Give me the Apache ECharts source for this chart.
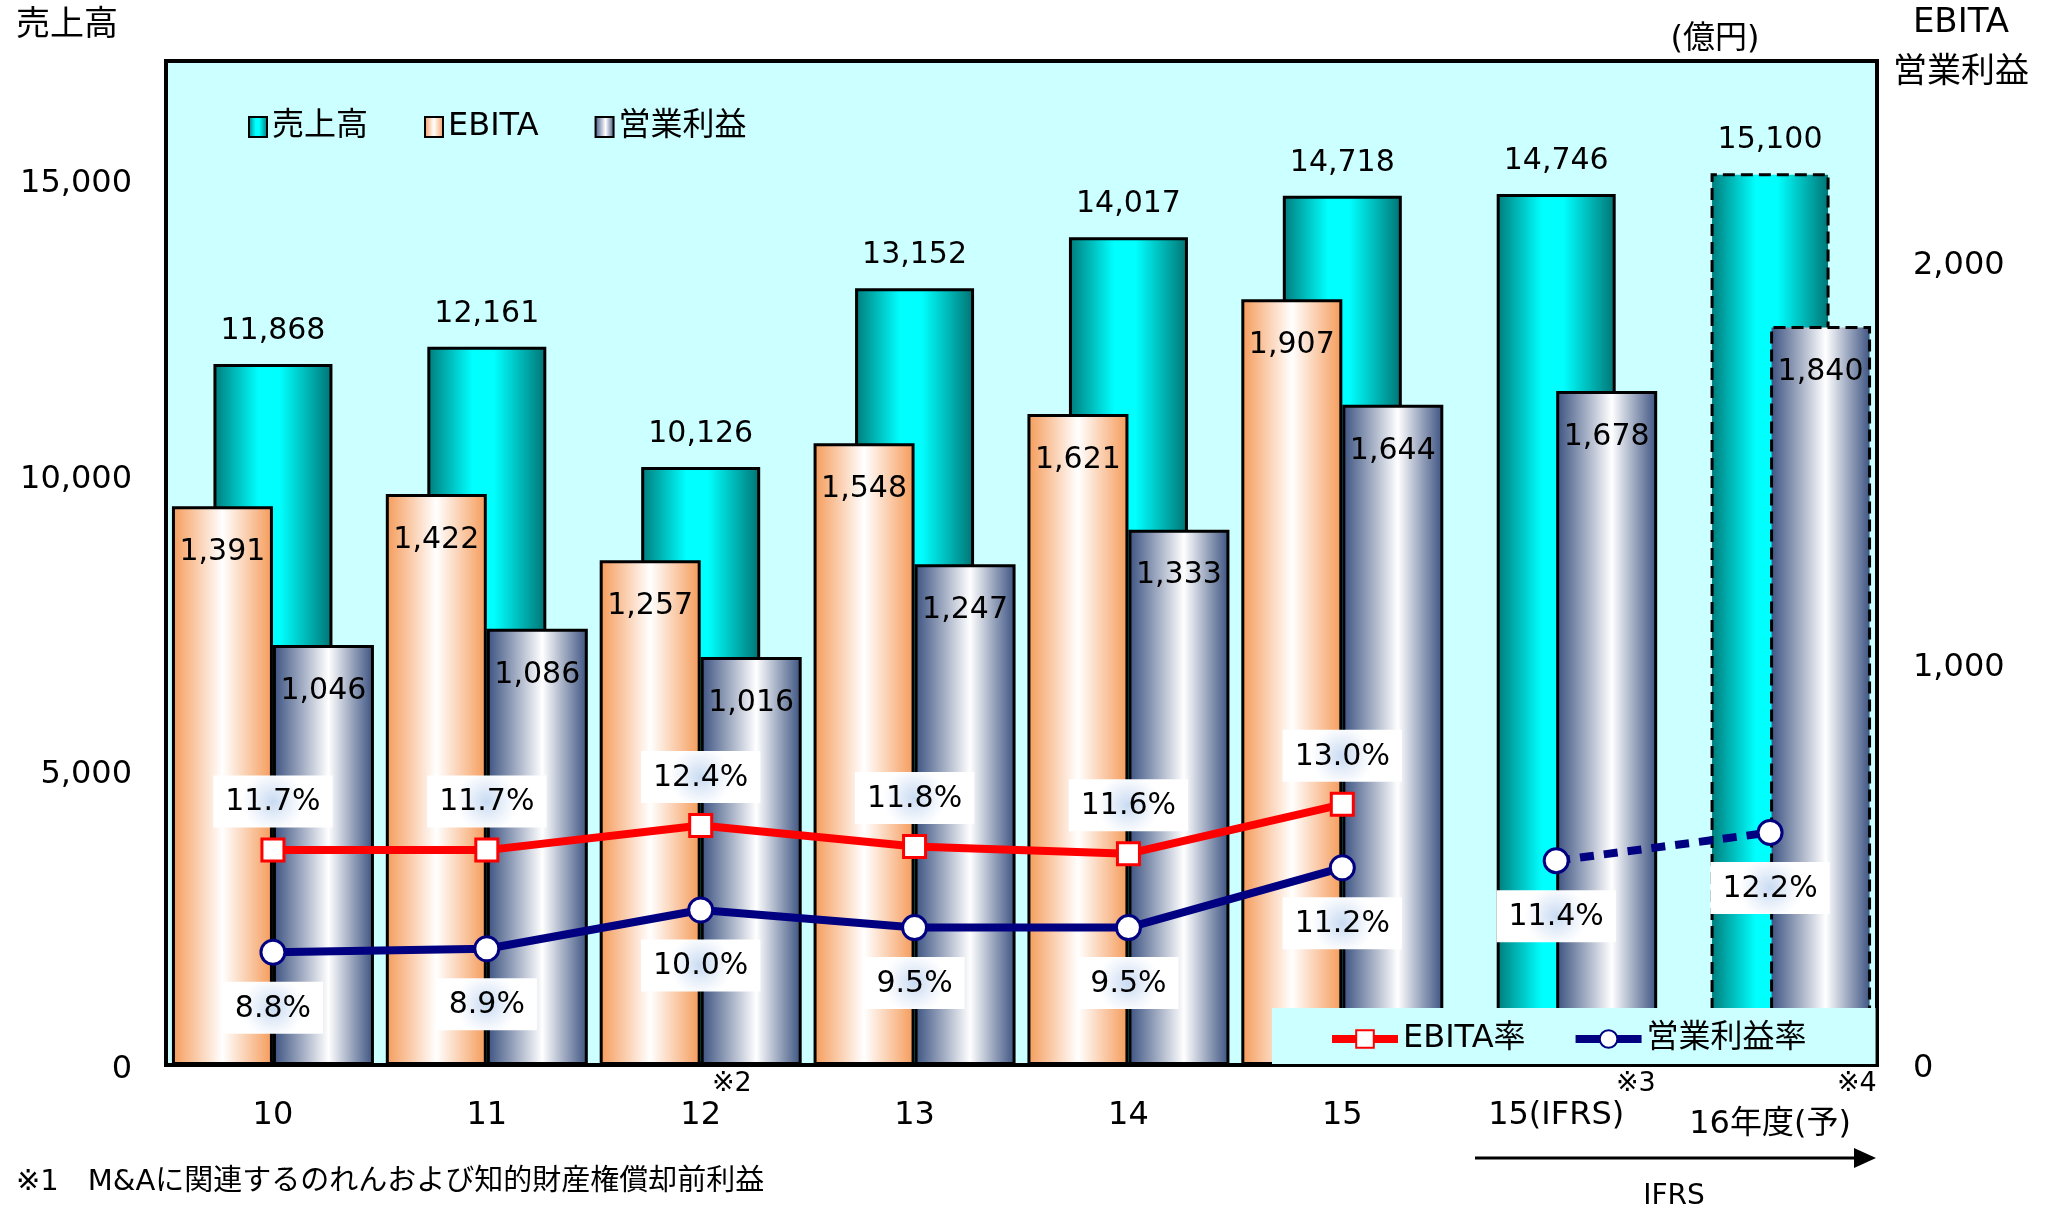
<!DOCTYPE html>
<html lang="ja">
<head>
<meta charset="utf-8">
<title>売上高・EBITA・営業利益</title>
<script src="https://cdn.jsdelivr.net/npm/echarts@6.0.0/dist/echarts.min.js"></script>
<style>
  html, body { margin: 0; padding: 0; background: #fff; }
  #chart { width: 2046px; height: 1212px; }
</style>
</head>
<body>
<div id="chart"></div>
<script>
const categories = ['10', '11', '12', '13', '14', '15', '15(IFRS)', '16年度(予)'];
const sales = [11868, 12161, 10126, 13152, 14017, 14718, 14746, 15100];
const ebita = [1391, 1422, 1257, 1548, 1621, 1907, null, null];
const opIncome = [1046, 1086, 1016, 1247, 1333, 1644, 1678, 1840];
const ebitaRate = [11.7, 11.7, 12.4, 11.8, 11.6, 13.0, null, null];
const opRate = [8.8, 8.9, 10.0, 9.5, 9.5, 11.2, null, null];
const opRateIfrs = [null, null, null, null, null, null, 11.4, 12.2];
const forecastIndex = 7; // 16年度(予) は破線の棒

const salesAxis = { min: 0, max: 17000, interval: 5000 };
const profitAxis = { min: 0, max: 2500, interval: 1000 };
const rateAxis = { min: 5.6, max: 34.1 };

const FONT = '"DejaVu Sans", "Noto Sans CJK JP", sans-serif';
const BG = '#CCFFFF';

const chart = echarts.init(document.getElementById('chart'), null, { renderer: 'canvas' });

function hGrad(stops) {
  return new echarts.graphic.LinearGradient(0, 0, 1, 0,
    stops.map(s => ({ offset: s[0], color: s[1] })));
}

function fmt(v) {
  return v == null ? '' : Number(v).toLocaleString('en-US');
}

function withForecast(values) {
  return values.map((v, i) => i === forecastIndex && v != null
    ? { value: v, itemStyle: { borderType: 'dashed' } }
    : v);
}

const salesFill = hGrad([[0, '#007A7A'], [0.38, '#00FFFF'], [0.56, '#00FFFF'], [1, '#007272']]);
const ebitaFill = hGrad([[0, '#F59A58'], [0.5, '#FFFFFF'], [1, '#F59A58']]);
const opFill = hGrad([[0, '#39507F'], [0.55, '#FFFFFF'], [1, '#39507F']]);

const rateLabelBg = {
  type: 'radial', x: 0.5, y: 0.5, r: 0.6,
  colorStops: [
    { offset: 0, color: '#C9DBF2' },
    { offset: 0.7, color: '#F2F6FC' },
    { offset: 1, color: '#FFFFFF' }
  ]
};

function rateLabel(position, distance) {
  return {
    show: true,
    position: position,
    distance: distance,
    formatter: p => p.value == null ? '' : p.value.toFixed(1) + '%',
    fontFamily: FONT,
    fontSize: 30,
    color: '#000',
    backgroundColor: rateLabelBg,
    padding: [12, 12, 10, 12]
  };
}

function valueAxisLabel(margin, shift) {
  return {
    margin: margin,
    showMaxLabel: false,
    formatter: v => '{v|' + fmt(v) + '}',
    rich: { v: { fontFamily: FONT, fontSize: 32, color: '#000', padding: [shift, 0, 0, 0] } }
  };
}

function text(x, y, str, size, align) {
  return {
    type: 'text',
    x: x,
    y: y,
    z: 10,
    style: {
      text: str,
      fontFamily: FONT,
      fontSize: size,
      fill: '#000',
      align: align || 'left',
      verticalAlign: 'middle'
    }
  };
}

const option = {
  animation: false,
  backgroundColor: '#fff',
  textStyle: { fontFamily: FONT },
  grid: {
    left: 166, right: 169, top: 61, bottom: 147,
    show: true,
    backgroundColor: BG,
    borderColor: '#000',
    borderWidth: 4,
    containLabel: false,
    outerBoundsMode: 'none'
  },
  legend: [
    {
      data: ['売上高', 'EBITA', '営業利益'],
      left: 248, top: 111,
      padding: 0,
      itemGap: 56,
      itemWidth: 18, itemHeight: 20,
      icon: 'rect',
      textStyle: { fontFamily: FONT, fontSize: 32, color: '#000' }
    },
    {
      data: ['EBITA率', '営業利益率'],
      left: 1272, top: 1008,
      padding: [15, 69, 9, 56],
      itemGap: 46,
      itemWidth: 66, itemHeight: 22,
      backgroundColor: BG,
      lineStyle: { width: 8 },
      textStyle: { fontFamily: FONT, fontSize: 32, color: '#000' }
    }
  ],
  xAxis: [
    {
      type: 'category',
      data: categories,
      axisLine: { lineStyle: { color: '#000', width: 4 } },
      axisTick: { inside: true, length: 10, lineStyle: { color: '#000', width: 2 } },
      axisLabel: {
        interval: 0,
        margin: 35,
        fontFamily: FONT,
        fontSize: 32,
        color: '#000',
        formatter: v => v === categories[forecastIndex] ? '{f|' + v + '}' : v,
        rich: { f: { fontFamily: FONT, fontSize: 32, color: '#000', padding: [9, 0, 0, 0] } }
      }
    },
    {
      type: 'category',
      data: categories,
      show: false
    }
  ],
  yAxis: [
    {
      type: 'value',
      position: 'left',
      min: salesAxis.min, max: salesAxis.max, interval: salesAxis.interval,
      axisLine: { show: false },
      axisTick: { show: false },
      splitLine: { show: false },
      axisLabel: valueAxisLabel(34, 10)
    },
    {
      type: 'value',
      position: 'right',
      min: profitAxis.min, max: profitAxis.max, interval: profitAxis.interval,
      axisLine: { show: false },
      axisTick: { show: false },
      splitLine: { show: false },
      axisLabel: valueAxisLabel(36, 8)
    },
    {
      type: 'value',
      show: false,
      min: rateAxis.min, max: rateAxis.max
    }
  ],
  series: [
    {
      name: '売上高',
      type: 'bar',
      xAxisIndex: 0, yAxisIndex: 0,
      barWidth: 119,
      data: withForecast(sales),
      itemStyle: { color: salesFill, borderColor: '#000', borderWidth: 3 },
      label: {
        show: true, position: 'top', distance: 18,
        fontFamily: FONT, fontSize: 30, color: '#000',
        formatter: p => fmt(p.value)
      }
    },
    {
      name: 'EBITA',
      type: 'bar',
      xAxisIndex: 1, yAxisIndex: 1,
      barWidth: 101, barGap: '0%',
      data: ebita,
      itemStyle: { color: ebitaFill, borderColor: '#000', borderWidth: 3 },
      label: {
        show: true, position: 'insideTop', distance: 31,
        fontFamily: FONT, fontSize: 30, color: '#000',
        formatter: p => fmt(p.value)
      }
    },
    {
      name: '営業利益',
      type: 'bar',
      xAxisIndex: 1, yAxisIndex: 1,
      barWidth: 101, barGap: '0%',
      data: withForecast(opIncome),
      itemStyle: { color: opFill, borderColor: '#000', borderWidth: 3 },
      label: {
        show: true, position: 'insideTop', distance: 31,
        fontFamily: FONT, fontSize: 30, color: '#000',
        formatter: p => fmt(p.value)
      }
    },
    {
      name: 'EBITA率',
      type: 'line',
      xAxisIndex: 0, yAxisIndex: 2,
      data: ebitaRate,
      symbol: 'rect', symbolSize: 22,
      lineStyle: { color: '#FF0000', width: 8 },
      itemStyle: { color: '#FFFFFF', borderColor: '#FF0000', borderWidth: 3 },
      label: rateLabel('top', 10),
      z: 5
    },
    {
      name: '営業利益率',
      type: 'line',
      xAxisIndex: 0, yAxisIndex: 2,
      data: opRate,
      symbol: 'circle', symbolSize: 24,
      lineStyle: { color: '#000080', width: 8 },
      itemStyle: { color: '#FFFFFF', borderColor: '#000080', borderWidth: 3 },
      label: rateLabel('bottom', 16),
      z: 5
    },
    {
      name: '営業利益率(IFRS)',
      type: 'line',
      xAxisIndex: 0, yAxisIndex: 2,
      data: opRateIfrs,
      symbol: 'circle', symbolSize: 24,
      lineStyle: { color: '#000080', width: 8, type: [14, 10] },
      itemStyle: { color: '#FFFFFF', borderColor: '#000080', borderWidth: 3 },
      label: rateLabel('bottom', 16),
      z: 5
    }
  ],
  graphic: [
    text(16, 26, '売上高', 34),
    text(1715, 40, '(億円)', 32, 'center'),
    text(1961, 23, 'EBITA', 34, 'center'),
    text(1961, 73, '営業利益', 34, 'center'),
    text(712, 1084, '※2', 27),
    text(1616, 1084, '※3', 27),
    text(1837, 1084, '※4', 27),
    {
      type: 'line',
      z: 10,
      shape: { x1: 1475, y1: 1158, x2: 1860, y2: 1158 },
      style: { stroke: '#000', lineWidth: 3 }
    },
    {
      type: 'polygon',
      z: 10,
      shape: { points: [[1854, 1148], [1876, 1158], [1854, 1168]] },
      style: { fill: '#000' }
    },
    text(1674, 1197, 'IFRS', 28, 'center'),
    text(16, 1182, '※1　M&Aに関連するのれんおよび知的財産権償却前利益', 29)
  ]
};

chart.setOption(option);
</script>
</body>
</html>
